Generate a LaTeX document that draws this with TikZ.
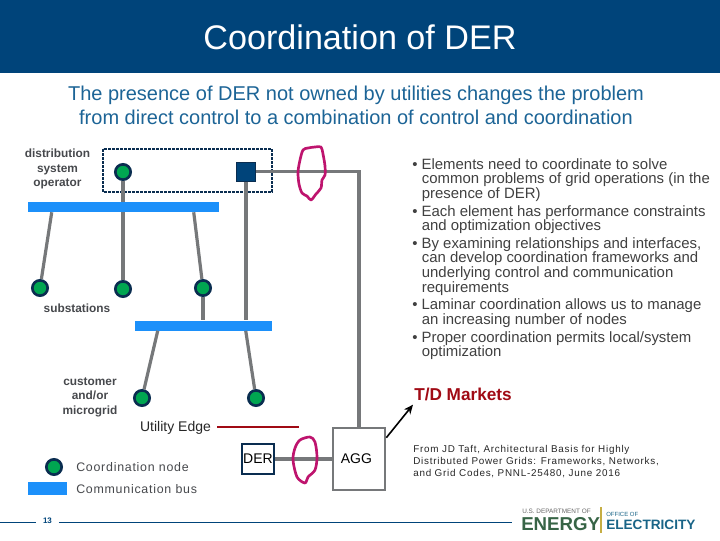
\documentclass[tikz,border=0pt]{standalone}
\usepackage{fontspec}
\setmainfont{Liberation Sans}
\usepackage{tikz}
\usetikzlibrary{arrows.meta,positioning,calc}
\definecolor{cbus}{RGB}{28,144,250}
\definecolor{cnavy}{RGB}{0,68,122}
\definecolor{csub}{RGB}{28,100,150}
\definecolor{cdark}{RGB}{10,45,80}
\definecolor{cgreen}{RGB}{0,166,81}
\definecolor{cwire}{RGB}{118,120,122}
\definecolor{ctxt}{RGB}{70,72,76}
\definecolor{cloop}{RGB}{190,20,110}
\definecolor{cred}{RGB}{160,10,20}
\definecolor{cenergy}{RGB}{55,100,70}
\definecolor{celec}{RGB}{25,100,135}
\tikzset{
  coordnode/.style={circle,draw=cdark,fill=cgreen,line width=2pt,minimum size=11.5pt,inner sep=0pt},
  busbar/.style={fill=cbus,inner sep=0pt,minimum height=7.5pt},
  wire/.style={draw=cwire,line width=2.4pt},
  tag/.style={font=\fontsize{8.9}{10.8}\selectfont\bfseries,text=ctxt,align=center},
  plain/.style={font=\fontsize{9.3}{11}\selectfont\addfontfeatures{LetterSpace=6},text=ctxt},
  loop/.style={draw=cloop,line width=2pt,line join=round}
}
\newcommand{\hang}{\hspace*{7.2pt}}
\begin{document}
\begin{tikzpicture}[x=0.75pt,y=-0.75pt]
\useasboundingbox (0,0) rectangle (720,540);
\fill[cnavy] (0,0) rectangle (720,73);
\node[text=white,font=\fontsize{25.6}{28}\selectfont] (title) at (360,37) {Coordination of DER};
\node[text=csub,font=\fontsize{15}{18}\selectfont,align=center] (sub) at (356,105) {The presence of DER not owned by utilities changes the problem\\from direct control to a combination of control and coordination};
% top area
\draw[cdark,line width=2pt,densely dotted] (103,149) rectangle (272,192);
\node[busbar,minimum width=143.25pt] (bus1) at (123.5,207) {};
\node[busbar,minimum width=102.75pt] (bus2) at (203.5,325.5) {};
\node[coordnode] (dso) at (123,172) {};
\node[fill=cnavy,draw=cdark,minimum size=14.5pt,inner sep=0pt,line width=.5pt] (ctrl) at (246,171.5) {};
\node[coordnode] (sub1) at (40,288) {};
\node[coordnode] (sub2) at (123,289) {};
\node[coordnode] (sub3) at (203,288) {};
\node[coordnode] (cust1) at (142,398) {};
\node[coordnode] (cust2) at (256,398) {};
\node[draw=cdark,line width=2pt,minimum width=24pt,minimum height=22.5pt,inner sep=0pt,font=\fontsize{10.5}{12}\selectfont] (der) at (258,459) {DER};
\node[draw=cwire,line width=2pt,minimum width=39pt,minimum height=46.5pt,inner sep=0pt,font=\fontsize{10.5}{12}\selectfont] (agg) at (359,459) {AGG\hspace*{4pt}};
\node[text=cred,font=\fontsize{12.9}{14}\selectfont\bfseries,anchor=west,inner sep=0pt] (tdlabel) at (414,394) {T/D Markets};
% connectors
\draw[wire] (dso) -- (dso |- bus1.north);
\draw[wire] (bus1.south -| sub2) -- (sub2);
\draw[wire] ($(bus1.south west)+(24,0)$) -- (sub1);
\draw[wire] ($(bus1.south west)+(166,0)$) -- (sub3);
\draw[wire] (sub3) -- (sub3 |- bus2.north);
\draw[wire] (ctrl) -- (ctrl |- bus2.north);
\draw[wire] (ctrl) -| (agg);
\draw[wire] ($(bus2.south west)+(23,0)$) -- (cust1);
\draw[wire] ($(bus2.south west)+(111,0)$) -- (cust2);
\draw[wire] (der) -- (agg);
\draw[black,line width=1.2pt,-{Stealth[length=7pt,width=6pt]}] ($(agg.north east)+(0,11)$) -- ($(tdlabel.south west)+(-1,4)$);
\node[tag] (dsolabel) at (57.5,169) {distribution\\system\\operator};
\node[tag] (sublabel) at (77,308) {substations};
\node[tag] (custlabel) at (90,397) {customer\\and/or\\microgrid};
\node[font=\fontsize{10.5}{12}\selectfont,text=black!85] (edgelabel) at (175.5,428) {Utility Edge};
\draw[cred,line width=2pt] (217,427) -- (299,427);
% hand drawn rings
\draw[loop] plot[smooth cycle,tension=0.5] coordinates {(303,150) (308,148) (315,147) (321,147) (323,154) (325,166) (325,175) (322,180) (321,188) (316,194) (311,200) (307,196) (302,193) (299,184) (298,172) (300,160)};
\draw[loop] plot[smooth cycle,tension=0.5] coordinates {(300,440) (310,437) (315,442) (317,457) (315,470) (308,477) (305,483) (297,477) (293,460) (295,448)};
% bullets
\node[anchor=north west,text=black!75,font=\fontsize{11.2}{11}\selectfont,align=left,inner sep=0pt] (points) at (412,158) {%
\textbullet\ Elements need to coordinate to solve\\
\hang common problems of grid operations (in the\\
\hang presence of DER)\\[2.2pt]
\textbullet\ Each element has performance constraints\\
\hang and optimization objectives\\[2.2pt]
\textbullet\ By examining relationships and interfaces,\\
\hang can develop coordination frameworks and\\
\hang underlying control and communication\\
\hang requirements\\[2.2pt]
\textbullet\ Laminar coordination allows us to manage\\
\hang an increasing number of nodes\\[2.2pt]
\textbullet\ Proper coordination permits local/system\\
\hang optimization};
\node[anchor=north west,font=\fontsize{7.4}{9}\selectfont\addfontfeatures{LetterSpace=7.7},text=black!85,align=left,inner sep=0pt] (source) at (413,445) {From JD Taft, Architectural Basis for Highly\\Distributed Power Grids: Frameworks, Networks,\\and Grid Codes, PNNL-25480, June 2016};
% legend
\node[coordnode] (legnode) at (54,467) {};
\node[plain,anchor=west,inner sep=0pt] (legnodetext) at (76,467) {Coordination node};
\node[busbar,minimum width=29pt,minimum height=9.5pt] (legbus) at (47.5,488.5) {};
\node[plain,anchor=west,inner sep=0pt] (legbustext) at (76,489) {Communication bus};
% footer
\coordinate (footl) at (0,522.5);
\coordinate (footr) at (512,522.5);
\node[text=cnavy,font=\fontsize{6}{7}\selectfont\bfseries,inner xsep=5pt] (page) at (47.5,521) {13};
\draw[cnavy,line width=1.2pt] (footl) -- (footl -| page.west);
\draw[cnavy,line width=1.2pt] (footr -| page.east) -- (footr);
\node[font=\fontsize{4.8}{5}\selectfont,text=black!60,anchor=west,inner sep=0pt] (doe) at (522,511) {U.S. DEPARTMENT OF};
\node[font=\fontsize{14}{16}\selectfont\bfseries,text=cenergy,anchor=west,inner sep=0pt] (energy) at (521,524.5) {ENERGY};
\draw[black!25!yellow!60!brown,line width=1pt] (601,507) -- (601,533);
\node[font=\fontsize{4.5}{5}\selectfont,text=celec,anchor=west,inner sep=0pt] (office) at (606,514) {OFFICE OF};
\node[font=\fontsize{10.2}{11}\selectfont\bfseries,text=celec,anchor=west,inner sep=0pt] (elec) at (606,525) {ELECTRICITY};
\end{tikzpicture}
\end{document}
